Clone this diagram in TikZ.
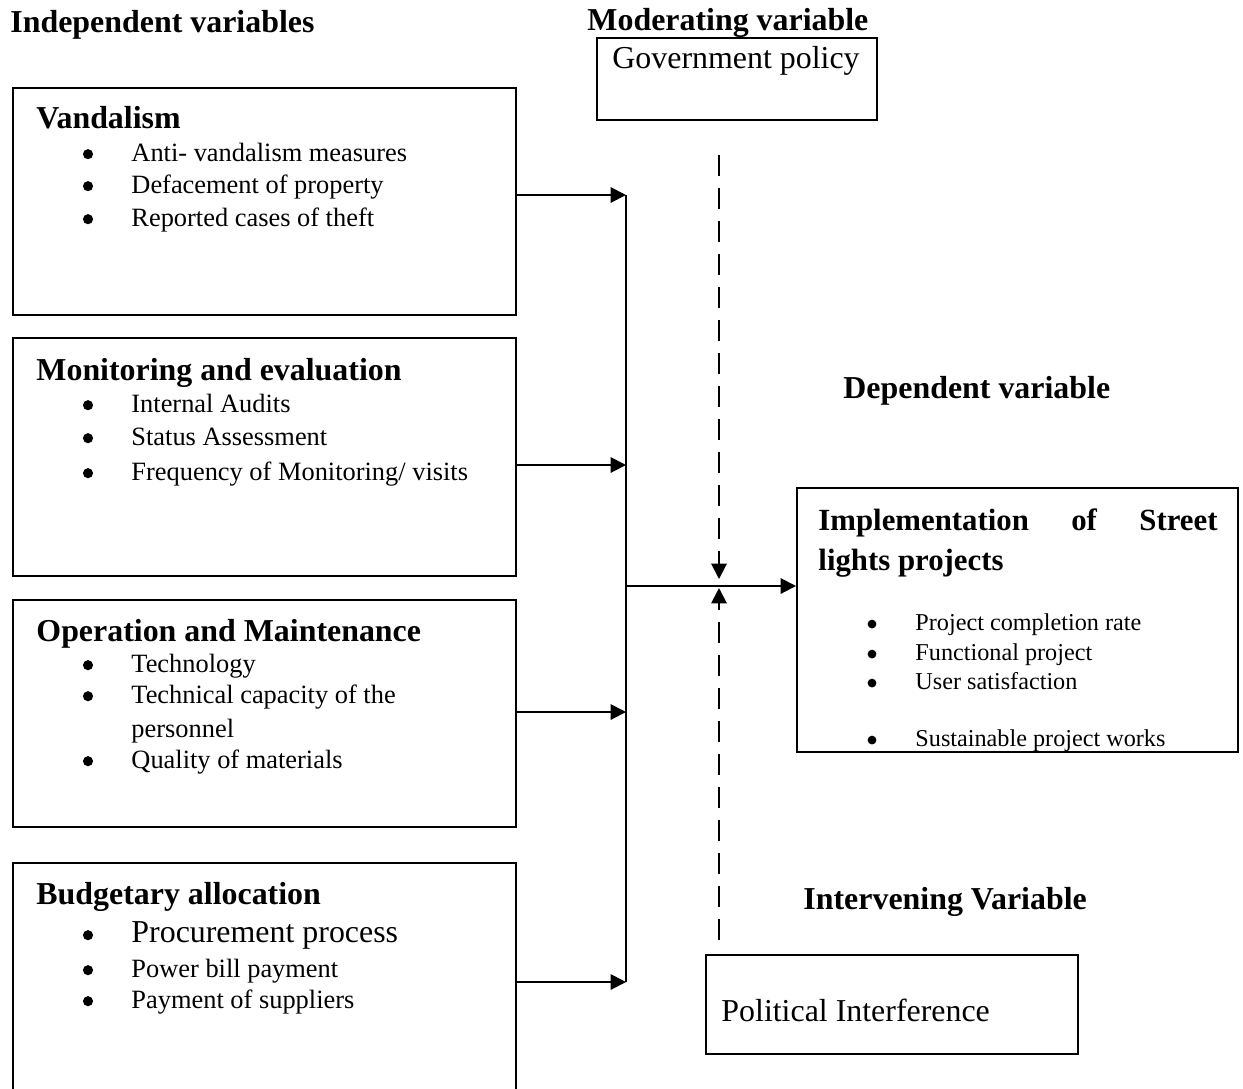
\documentclass[tikz,border=0pt]{standalone}
\usepackage{fontspec}
\setmainfont{Liberation Serif}
\usetikzlibrary{positioning, arrows.meta, fit}

\tikzset{
    box/.style={draw, line width=0.9pt, inner sep=0pt},
    head/.style={anchor=base west, inner sep=0pt, font=\bfseries\fontsize{14.5}{17}\selectfont},
    txt/.style={anchor=base west, inner sep=0pt, font=\fontsize{12}{14}\selectfont},
    bigtxt/.style={anchor=base west, inner sep=0pt, font=\fontsize{14.5}{17}\selectfont},
    smalltxt/.style={anchor=base west, inner sep=0pt, font=\fontsize{11}{13}\selectfont},
    dot/.style={circle, fill, inner sep=0pt, minimum size=4.6pt, yshift=3.1pt},
    smalldot/.style={circle, fill, inner sep=0pt, minimum size=4pt, yshift=2.7pt},
    link/.style={line width=0.9pt, -{Triangle[length=7pt, width=7pt]}},
    moder/.style={link, dash pattern=on 9.5pt off 5.5pt},
}

\begin{document}
\begin{tikzpicture}[x=0.4545pt, y=-0.4545pt]
    \useasboundingbox (0,0) rectangle (1243,1088);

    % column headings
    \node[head] (indep) at (10,32) {Independent variables};
    \node[head] (modlab) at (587,30) {Moderating variable};
    \node[head] (deplab) at (843,398) {Dependent variable};
    \node[head] (intlab) at (803,909) {Intervening Variable};

    % independent variables
    \node[box, fit={(13,88) (516,315)}] (vand) {};
    \node[head] (vandh) at (36,128) {Vandalism};
    \node[dot] (vandb1) at (88,161) {};
    \node[txt] (vand1) at (131,161) {Anti- vandalism measures};
    \node[dot] (vandb2) at (88,193) {};
    \node[txt] (vand2) at (131,193) {Defacement of property};
    \node[dot] (vandb3) at (88,226) {};
    \node[txt] (vand3) at (131,226) {Reported cases of theft};

    \node[box, fit={(13,338) (516,576)}] (moni) {};
    \node[head] (monih) at (36,380) {Monitoring and evaluation};
    \node[dot] (monib1) at (88,412) {};
    \node[txt] (moni1) at (131,412) {Internal Audits};
    \node[dot] (monib2) at (88,445) {};
    \node[txt] (moni2) at (131,445) {Status Assessment};
    \node[dot] (monib3) at (88,480) {};
    \node[txt] (moni3) at (131,480) {Frequency of Monitoring/ visits};

    \node[box, fit={(13,600) (516,827)}] (oper) {};
    \node[head] (operh) at (36,641) {Operation and Maintenance};
    \node[dot] (operb1) at (88,672) {};
    \node[txt] (oper1) at (131,672) {Technology};
    \node[dot] (operb2) at (88,703) {};
    \node[txt] (oper2) at (131,703) {Technical capacity of the};
    \node[txt] (oper2b) at (131,737) {personnel};
    \node[dot] (operb3) at (88,768) {};
    \node[txt] (oper3) at (131,768) {Quality of materials};

    \node[box, fit={(13,863) (516,1100)}] (budg) {};
    \node[head] (budgh) at (36,904) {Budgetary allocation};
    \node[dot] (budgb1) at (88,942) {};
    \node[bigtxt] (budg1) at (131,942) {Procurement process};
    \node[dot] (budgb2) at (88,977) {};
    \node[txt] (budg2) at (131,977) {Power bill payment};
    \node[dot] (budgb3) at (88,1008) {};
    \node[txt] (budg3) at (131,1008) {Payment of suppliers};

    % moderating and intervening variables
    \node[box, fit={(597,38) (877,120)}] (govt) {};
    \node[bigtxt] (govtt) at (612,68) {Government policy};
    \node[box, fit={(706,955) (1078,1054)}] (pol) {};
    \node[bigtxt] (polt) at (721,1021) {Political Interference};

    % dependent variable
    \node[box, fit={(797,488) (1238,752)}] (dep) {};
    \node[anchor=base west, inner sep=0pt, text width=181.4pt, align=justify,
          font=\bfseries\fontsize{14}{18.6}\selectfont] (dept) at (818,530)
          {Implementation\hfill of\hfill Street\\lights projects};
    \node[smalldot] (depb1) at (872,630) {};
    \node[smalltxt] (dep1) at (915,630) {Project completion rate};
    \node[smalldot] (depb2) at (872,660) {};
    \node[smalltxt] (dep2) at (915,660) {Functional project};
    \node[smalldot] (depb3) at (872,689) {};
    \node[smalltxt] (dep3) at (915,689) {User satisfaction};
    \node[smalldot] (depb4) at (872,746) {};
    \node[smalltxt] (dep4) at (915,746) {Sustainable project works};

    % collecting line
    \coordinate (bus1) at (626,195);
    \coordinate (bus2) at (626,465);
    \coordinate (bus3) at (626,712);
    \coordinate (bus4) at (626,982);
    \coordinate (busm) at (626,586);
    \draw[link] (vand.east |- bus1) -- (bus1);
    \draw[link] (moni.east |- bus2) -- (bus2);
    \draw[link] (oper.east |- bus3) -- (bus3);
    \draw[link] (budg.east |- bus4) -- (bus4);
    \draw[line width=0.9pt] (bus1) -- (bus4);
    \draw[link] (busm) -- (dep.west |- busm);

    % dashed influences
    \coordinate (modtop) at (719,155);
    \coordinate (modend) at (719,579);
    \coordinate (inttop) at (719,940);
    \coordinate (intend) at (719,588);
    \draw[moder] (modtop) -- (modend);
    \draw[moder] (inttop) -- (intend);
\end{tikzpicture}
\end{document}
